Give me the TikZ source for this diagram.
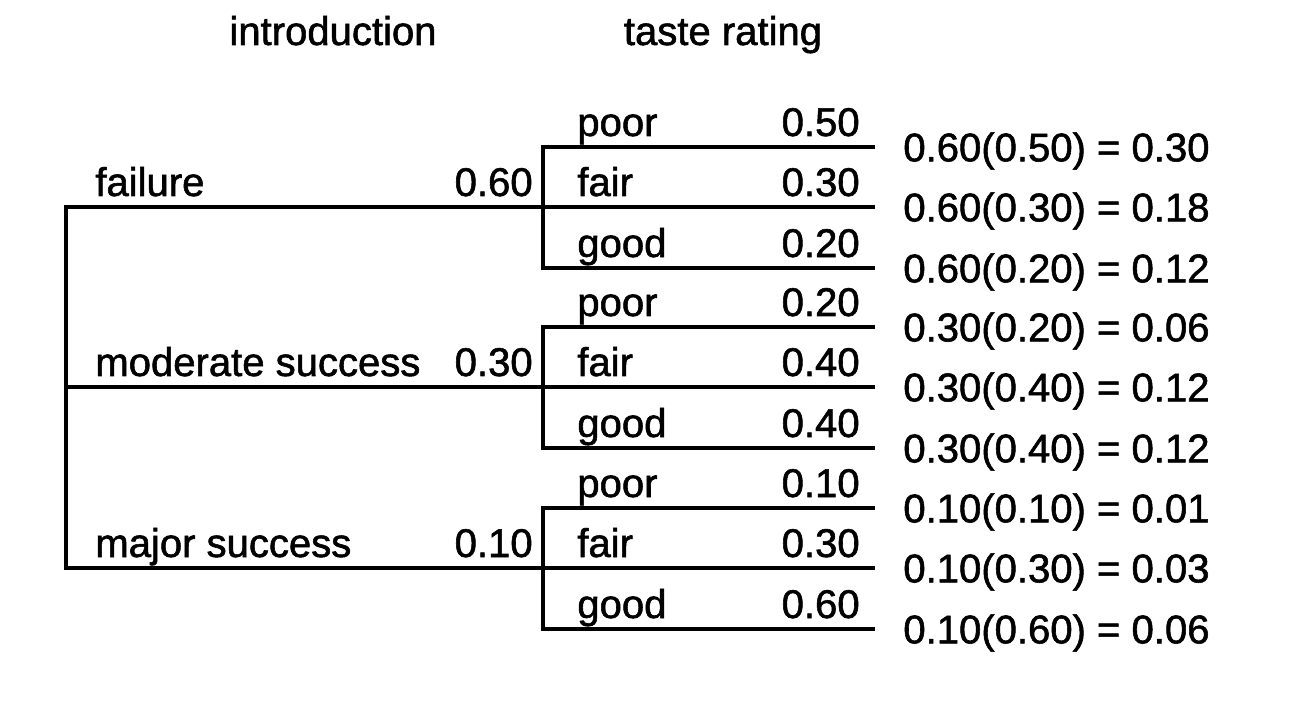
\documentclass[tikz,border=0pt]{standalone}
\usepackage{fontspec}
\setmainfont{Liberation Sans}
\newfontfamily\heavyfont{Liberation Sans}[FakeBold=1.4]
\usetikzlibrary{positioning}

\tikzset{
  branch/.style={line width=2.6pt, line cap=rect},
  txt/.style={inner sep=0pt, font=\heavyfont\fontsize{22.8}{27}\selectfont}
}

\begin{document}
\begin{tikzpicture}[x=0.02cm, y=-0.02cm]
  \useasboundingbox (0,0) rectangle (1312,716);
  % column heads
  \node[txt, anchor=base] (hintro) at (333,45) {introduction};
  \node[txt, anchor=base] (htaste) at (723,45) {taste rating};
  % introduction outcomes
  \coordinate (rtop) at (66,207);
  \coordinate (rbot) at (66,568);
  \draw[branch] (rtop) -- (rbot);
  \foreach \i/\name/\p/\y/\pa/\pb/\pc/\ra/\rb/\rc in {
      1/failure/0.60/207/0.50/0.30/0.20/0.30/0.18/0.12,
      2/moderate success/0.30/387/0.20/0.40/0.40/0.06/0.12/0.12,
      3/major success/0.10/568/0.10/0.30/0.60/0.01/0.03/0.06}{
    \coordinate (intro\i) at (66,\y);
    \coordinate (taste\i) at (543,\y);
    \draw[branch] (intro\i) -- (taste\i);
    \node[txt, anchor=base west] (out\i) at (95,\y-11) {\name};
    \node[txt, anchor=base east] (pin\i) at (533,\y-11) {\p};
    % taste rating fan
    \coordinate (ttop\i) at (543,\y-60);
    \coordinate (tbot\i) at (543,\y+61);
    \draw[branch] (ttop\i) -- (tbot\i);
    \foreach \j/\lab/\off/\q/\r in {1/poor/-60/\pa/\ra, 2/fair/0/\pb/\rb, 3/good/61/\pc/\rc}{
      \coordinate (fork\i\j) at (543,\y+\off);
      \coordinate (leaf\i\j) at (873,\y+\off);
      \draw[branch] (fork\i\j) -- (leaf\i\j);
      \node[txt, anchor=base west] (lab\i\j) at (577,\y+\off-11) {\lab};
      \node[txt, anchor=base east] (pr\i\j) at (860,\y+\off-11) {\q};
      \node[txt, anchor=west] (res\i\j) at (903,\y+\off+4) {\p(\q) = \r};
    }
  }
\end{tikzpicture}
\end{document}
